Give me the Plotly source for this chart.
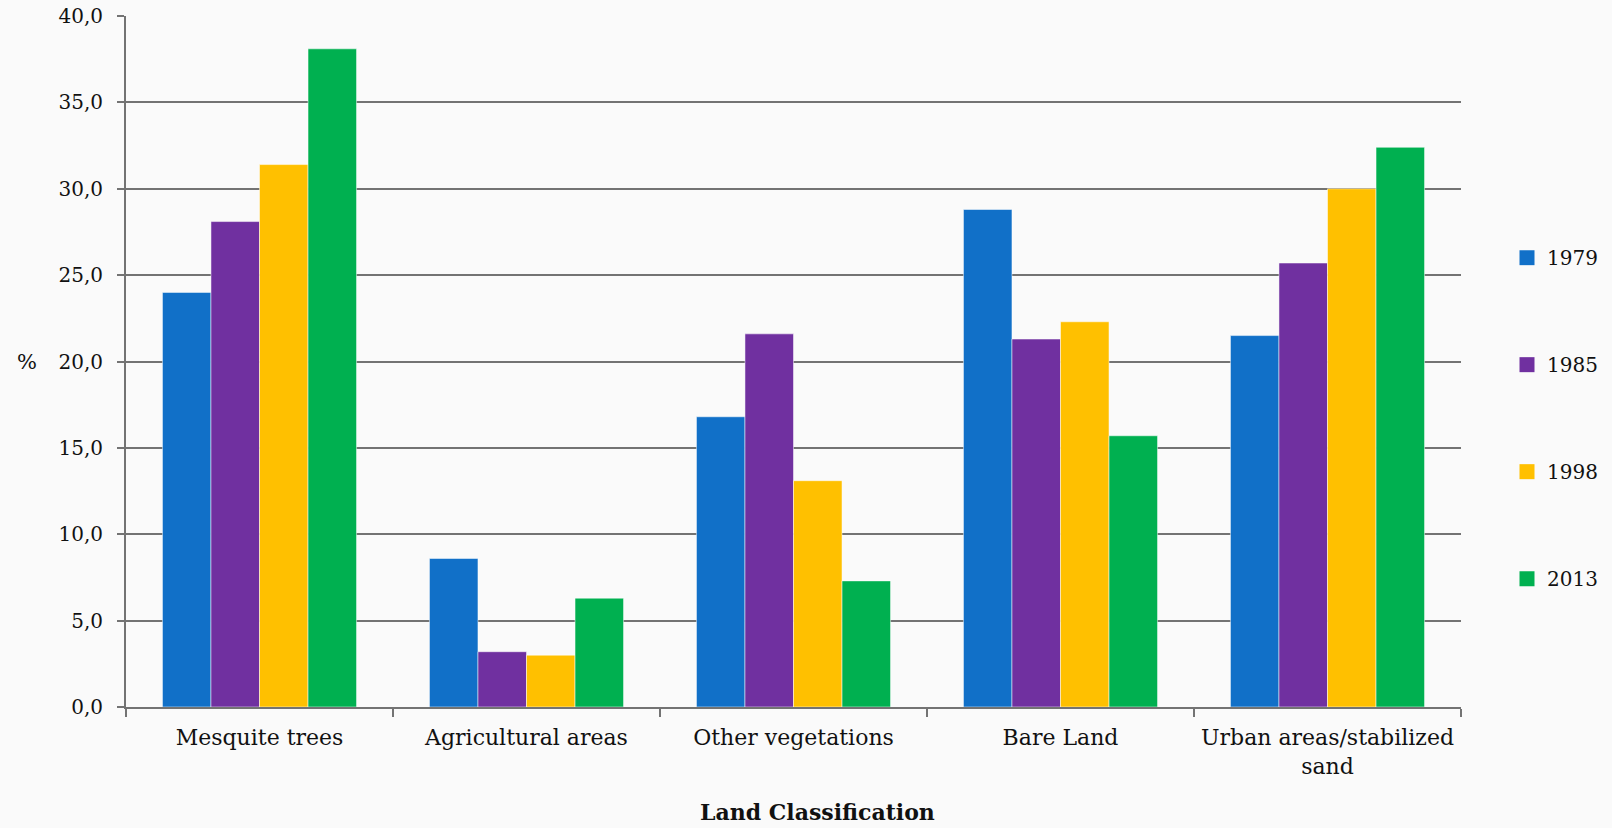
import plotly.graph_objects as go

# Land cover share (%) per class and survey year
categories = [
    "Mesquite trees",
    "Agricultural areas",
    "Other vegetations",
    "Bare Land",
    "Urban areas/stabilized<br>sand",
]
years = ["1979", "1985", "1998", "2013"]
values_1979 = [24.0, 8.6, 16.8, 28.8, 21.5]
values_1985 = [28.1, 3.2, 21.6, 21.3, 25.7]
values_1998 = [31.4, 3.0, 13.1, 22.3, 30.0]
values_2013 = [38.1, 6.3, 7.3, 15.7, 32.4]
colors = ["#1170c8", "#7030a0", "#ffc000", "#00b050"]

series = [values_1979, values_1985, values_1998, values_2013]

FONT = "DejaVu Serif"
TEXT = "#111111"
GRID = "#737373"

fig = go.Figure()
for year, vals, col in zip(years, series, colors):
    fig.add_trace(go.Bar(
        x=categories,
        y=vals,
        name=year,
        legendgroup=year,
        showlegend=False,
        marker=dict(color=col, line=dict(color="rgba(255,255,255,0.5)", width=1)),
    ))
    # legend key: a larger square swatch than the default bar key
    fig.add_trace(go.Scatter(
        x=[None], y=[None], mode="markers", name=year, legendgroup=year,
        marker=dict(symbol="square", size=15, color=col),
    ))

plot_l, plot_r, plot_t, plot_b = 126, 151, 16, 121
plot_w = 1612 - plot_l - plot_r
plot_h = 828 - plot_t - plot_b

fig.update_layout(
    width=1612,
    height=828,
    margin=dict(l=plot_l, r=plot_r, t=plot_t, b=plot_b, autoexpand=False),
    paper_bgcolor="#fafafa",
    plot_bgcolor="rgba(0,0,0,0)",
    barmode="group",
    bargap=0.273,
    bargroupgap=0,
    separators=",.",
    font=dict(family=FONT, size=20, color=TEXT),
    showlegend=True,
    legend=dict(
        x=(1507 - plot_l) / plot_w, y=0.418, xanchor="left", yanchor="middle",
        font=dict(family=FONT, size=20, color=TEXT),
        tracegroupgap=78,
        itemwidth=30,
        bgcolor="rgba(0,0,0,0)",
    ),
    xaxis=dict(
        automargin=False,
        showline=True, linecolor=GRID, linewidth=2,
        ticks="outside", tickson="boundaries", ticklen=8, tickwidth=2, tickcolor=GRID,
        tickfont=dict(family=FONT, size=22, color=TEXT),
        ticklabelstandoff=10,
        showgrid=False,
    ),
    yaxis=dict(
        automargin=False,
        range=[0, 40],
        dtick=5,
        tickformat=".1f",
        showline=True, linecolor=GRID, linewidth=2,
        ticks="outside", ticklen=7, tickwidth=2, tickcolor=GRID,
        tickfont=dict(family=FONT, size=20, color=TEXT),
        ticklabelstandoff=10,
        showgrid=True, gridcolor=GRID, gridwidth=2,
        zeroline=False,
    ),
    annotations=[
        dict(text="%", x=(27 - plot_l) / plot_w, y=20, xref="paper", yref="y",
             xanchor="center", yanchor="middle", showarrow=False,
             font=dict(family=FONT, size=21, color=TEXT)),
        dict(text="<b>Land Classification</b>", x=(818 - plot_l) / plot_w,
             y=(828 - plot_b - 812) / plot_h, xref="paper", yref="paper",
             xanchor="center", yanchor="middle", showarrow=False,
             font=dict(family=FONT, size=22, color=TEXT)),
    ],
)

fig.write_html("out.html")
